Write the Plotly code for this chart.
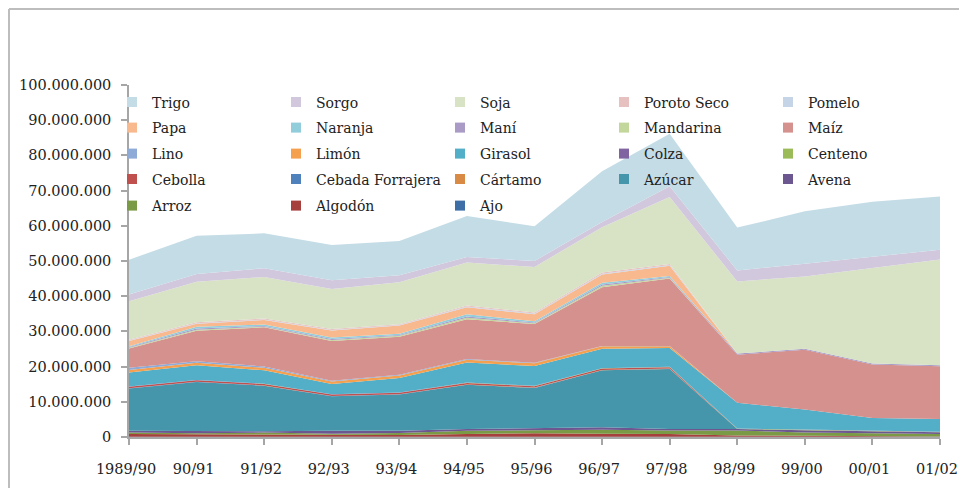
import plotly.graph_objects as go

# Campañas (eje x)
campanas = ["1989/90", "90/91", "91/92", "92/93", "93/94", "94/95", "95/96",
            "96/97", "97/98", "98/99", "99/00", "00/01", "01/02"]

# Producción en millones de toneladas, de abajo hacia arriba
ajo = [0.05, 0.05, 0.05, 0.05, 0.05, 0.05, 0.05, 0.05, 0.05, 0.05, 0.05, 0.05, 0.05]
algodon = [0.8, 0.7, 0.6, 0.4, 0.5, 0.8, 1.0, 0.9, 0.8, 0.4, 0.3, 0.2, 0.1]
arroz = [0.4, 0.35, 0.6, 0.5, 0.6, 0.9, 0.9, 1.1, 1.0, 1.4, 0.9, 0.8, 0.7]
avena = [0.5, 0.5, 0.4, 0.8, 0.6, 0.5, 0.6, 0.7, 0.4, 0.4, 0.7, 0.6, 0.5]
azucar = [12.0, 14.0, 12.9, 9.8, 10.3, 12.6, 11.4, 16.2, 17.1, 0, 0, 0, 0]
cartamo = [0.05, 0.05, 0.05, 0.05, 0.05, 0.05, 0.05, 0.05, 0.05, 0, 0, 0, 0]
cebada_forrajera = [0.05, 0.05, 0.05, 0.05, 0.05, 0.05, 0.05, 0.05, 0.05, 0, 0, 0, 0]
cebolla = [0.4, 0.4, 0.4, 0.4, 0.4, 0.4, 0.4, 0.4, 0.4, 0, 0, 0, 0]
centeno = [0.05, 0.05, 0.05, 0.05, 0.05, 0.05, 0.05, 0.05, 0.05, 0.1, 0.1, 0.1, 0.1]
colza = [0.05, 0.05, 0.05, 0.05, 0.05, 0.05, 0.05, 0.05, 0.05, 0.05, 0.05, 0.05, 0.05]
girasol = [4.0, 4.2, 3.8, 2.9, 4.1, 5.7, 5.6, 5.5, 5.3, 7.3, 5.7, 3.6, 3.6]
limon = [0.7, 0.7, 0.7, 0.7, 0.7, 0.8, 0.8, 0.7, 0.5, 0, 0, 0, 0]
lino = [0.6, 0.4, 0.4, 0.2, 0.2, 0.2, 0.15, 0.1, 0.1, 0, 0, 0, 0]
maiz = [5.5, 8.7, 11.1, 11.3, 10.8, 11.3, 11.0, 16.7, 19.2, 13.7, 17.0, 15.2, 15.0]
mandarina = [0.2, 0.3, 0.2, 0.3, 0.3, 0.4, 0.2, 0.4, 0.2, 0, 0, 0, 0]
mani = [0.2, 0.3, 0.2, 0.3, 0.2, 0.4, 0.2, 0.4, 0.2, 0.3, 0.3, 0.3, 0.3]
naranja = [0.2, 0.5, 0.4, 0.4, 0.4, 0.6, 0.4, 0.5, 0.3, 0, 0, 0, 0]
papa = [1.5, 0.9, 1.3, 2.0, 2.3, 2.0, 2.0, 2.3, 2.9, 0, 0, 0, 0]
pomelo = [0.15, 0.15, 0.15, 0.15, 0.15, 0.2, 0.2, 0.2, 0.2, 0, 0, 0, 0]
poroto_seco = [0.25, 0.25, 0.25, 0.25, 0.25, 0.3, 0.3, 0.35, 0.3, 0, 0, 0, 0]
soja = [10.9, 11.5, 11.8, 11.4, 11.9, 12.2, 12.9, 12.9, 19.0, 20.5, 20.5, 27.0, 30.0]
sorgo = [1.9, 2.2, 2.5, 2.5, 2.0, 1.6, 1.7, 1.5, 3.1, 3.1, 3.6, 3.2, 2.8]
trigo = [9.9, 10.9, 9.9, 10.0, 9.7, 11.6, 9.9, 14.4, 14.9, 12.2, 14.9, 15.7, 15.1]

# orden de apilado (abajo -> arriba)
series = [
    ("Ajo", ajo, "#3d6ea5"),
    ("Algodón", algodon, "#a6403d"),
    ("Arroz", arroz, "#7a9a45"),
    ("Avena", avena, "#6d5791"),
    ("Azúcar", azucar, "#4596ab"),
    ("Cártamo", cartamo, "#d98a45"),
    ("Cebada Forrajera", cebada_forrajera, "#4f81bd"),
    ("Cebolla", cebolla, "#c0504d"),
    ("Centeno", centeno, "#9bbb59"),
    ("Colza", colza, "#8064a2"),
    ("Girasol", girasol, "#52afc7"),
    ("Limón", limon, "#f5a04f"),
    ("Lino", lino, "#8eaad6"),
    ("Maíz", maiz, "#d5918e"),
    ("Mandarina", mandarina, "#c3d69b"),
    ("Maní", mani, "#a99bc6"),
    ("Naranja", naranja, "#92cddc"),
    ("Papa", papa, "#f9b98e"),
    ("Pomelo", pomelo, "#c6d4e8"),
    ("Poroto Seco", poroto_seco, "#e6c1c0"),
    ("Soja", soja, "#d8e3c5"),
    ("Sorgo", sorgo, "#d2c8dd"),
    ("Trigo", trigo, "#c4dce6"),
]

legend_rows = [
    ["Trigo", "Sorgo", "Soja", "Poroto Seco", "Pomelo"],
    ["Papa", "Naranja", "Maní", "Mandarina", "Maíz"],
    ["Lino", "Limón", "Girasol", "Colza", "Centeno"],
    ["Cebolla", "Cebada Forrajera", "Cártamo", "Azúcar", "Avena"],
    ["Arroz", "Algodón", "Ajo"],
]

FONT = "DejaVu Serif"
TXT = "#222222"
# la página tiene un margen de 8 px: se trabaja en coordenadas de la figura
OFF = 8
W, H = 951, 480
ML, MR, MT, MB = 30, 5, 10, 40
pw, ph = W - ML - MR, H - MT - MB


def px_x(p):
    return (p - OFF - ML) / pw


def px_y(p):
    return (H - MB - (p - OFF)) / ph


fig = go.Figure()

colores = {}
for nombre, vals, color in series:
    colores[nombre] = color
    fig.add_trace(go.Scatter(
        x=campanas, y=[v * 1e6 for v in vals], name=nombre,
        stackgroup="uno", mode="lines",
        line=dict(width=0, color=color), fillcolor=color,
        showlegend=False, hoverinfo="x+y+name"))

row_centers = [101.5, 127, 153, 178.5, 205]
legend_ids = ["legend", "legend2", "legend3", "legend4", "legend5"]
for i, fila in enumerate(legend_rows):
    for nombre in fila:
        fig.add_trace(go.Scatter(
            x=[None], y=[None], name=nombre, mode="markers",
            marker=dict(symbol="square", size=10, color=colores[nombre]),
            legend=legend_ids[i], showlegend=True))

legends = {}
for i, lid in enumerate(legend_ids):
    legends[lid] = dict(
        orientation="h", x=px_x(112), xanchor="left",
        y=px_y(row_centers[i] - 15), yanchor="top",
        entrywidth=119, entrywidthmode="pixels",
        bgcolor="rgba(0,0,0,0)", borderwidth=0,
        font=dict(family=FONT, size=14, color=TXT),
        itemwidth=30, traceorder="normal")

fig.update_layout(
    width=W, height=H,
    margin=dict(l=ML, r=MR, t=MT, b=MB),
    paper_bgcolor="white", plot_bgcolor="white",
    separators=",.",
    font=dict(family=FONT, size=14.5, color=TXT),
    **legends,
    xaxis=dict(
        type="category", range=[0, len(campanas) - 1],
        domain=[px_x(129), px_x(940)], automargin=False,
        showline=True, linecolor="#a6a6a6", linewidth=1.5,
        ticks="outside", ticklen=6, tickcolor="#a6a6a6", tickwidth=1.5,
        ticklabelstandoff=12, ticklabelshift=-3,
        showgrid=False, zeroline=False,
        tickfont=dict(family=FONT, size=14.5, color=TXT)),
    yaxis=dict(
        range=[0, 100e6], domain=[px_y(437), px_y(85)], automargin=False,
        tickmode="linear", tick0=0, dtick=10e6, tickformat=",d",
        showline=True, linecolor="#a6a6a6", linewidth=1.5,
        ticks="outside", ticklen=6, tickcolor="#a6a6a6", tickwidth=1.5,
        ticklabelstandoff=7, showgrid=False, zeroline=False,
        tickfont=dict(family=FONT, size=14.5, color=TXT)),
    shapes=[
        dict(type="line", xref="paper", yref="paper",
             x0=px_x(9), x1=px_x(9), y0=px_y(9), y1=px_y(520),
             line=dict(color="#bdbdbd", width=2)),
        dict(type="line", xref="paper", yref="paper",
             x0=px_x(9), x1=px_x(1000), y0=px_y(9), y1=px_y(9),
             line=dict(color="#bdbdbd", width=2)),
    ],
)

fig.write_html("out.html")
